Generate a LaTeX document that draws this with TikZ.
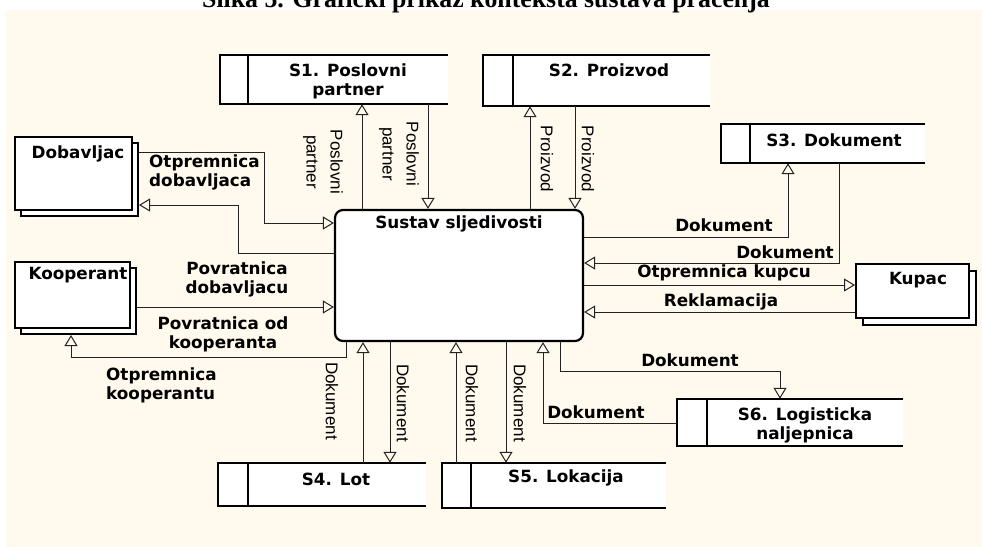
\documentclass[tikz,border=0pt]{standalone}
\usepackage{fontspec}
\setmainfont{DejaVu Sans}
\newfontfamily\rotfont{Liberation Sans}
\newfontfamily\titlefont{Liberation Serif}
\usetikzlibrary{arrows.meta}
\definecolor{cream}{RGB}{255,249,238}
\definecolor{ink}{RGB}{35,35,35}

\tikzset{
  flow/.style={draw=ink, line width=1pt, -{Triangle[open,length=11pt,width=13pt]}},
  lbl/.style={inner sep=0pt, font=\fontsize{16.8}{19}\selectfont\bfseries, align=center},
  vlbl/.style={inner sep=0pt, rotate=-90, font=\rotfont\fontsize{17}{24}\selectfont, align=center},
  boxline/.style={line width=2.2pt, draw=black},
  entity/.style={draw=black, line width=2pt, fill=white, inner sep=0pt},
  storebody/.style={fill=white, inner sep=0pt},
}

% data store: name, x1, y1, x2, y2, divider x
\newcommand\dfdstore[6]{%
  \node[storebody, minimum width={(#4-#2)*1pt}, minimum height={(#5-#3)*1pt}] (#1) at ({(#2+#4)/2},{(#3+#5)/2}) {};
  \draw[boxline] (#1.north east) -- (#1.north west) -- (#1.south west) -- (#1.south east);
  \draw[boxline] (#1.north -| #6,0) -- (#1.south -| #6,0);
}

\begin{document}
\begin{tikzpicture}[x=1pt,y=-1pt]
\useasboundingbox (0,0) rectangle (982,547);
\clip (0,0) rectangle (982,547);
\fill[white] (0,0) rectangle (982,547);
\fill[cream] (6,10) rectangle (982,547);

% caption
\node[font=\titlefont\bfseries\fontsize{25.8}{28}\selectfont, anchor=base, inner sep=0pt] (title) at (486,7.5)
  {Slika 5. Grafički prikaz konteksta sustava praćenja};

% external entities (with shadow copies)
\node[entity, minimum width=117pt, minimum height=73pt] (dobS) at (79.5,179.5) {};
\node[entity, minimum width=117pt, minimum height=73pt] (dob) at (73.5,173.5) {};
\node[lbl] (dobt) at (78,154) {Dobavljac};

\node[entity, minimum width=115pt, minimum height=66pt] (koopS) at (78.5,301) {};
\node[entity, minimum width=115pt, minimum height=66pt] (koop) at (72.5,295) {};
\node[lbl] (koopt) at (78,275) {Kooperant};

\node[entity, minimum width=113pt, minimum height=54pt] (kupS) at (919.5,298) {};
\node[entity, minimum width=113pt, minimum height=54pt] (kup) at (912.5,291) {};
\node[lbl] (kupt) at (918,280) {Kupac};

% central process
\node[draw=black, line width=2.2pt, rounded corners=8pt, fill=white, inner sep=0pt,
      minimum width=248pt, minimum height=131pt] (main) at (459,275.5) {};
\node[lbl] (maint) at (459,224) {Sustav sljedivosti};

% data stores
\dfdstore{s1}{220}{55}{448}{104}{248}
\node[lbl] (s1t) at (348,81.5) {S1. Poslovni\\partner};
\dfdstore{s2}{483}{55}{710}{106}{513}
\node[lbl] (s2t) at (609,70) {S2. Proizvod};
\dfdstore{s3}{721}{124}{925}{163}{750}
\node[lbl] (s3t) at (834,140) {S3. Dokument};
\dfdstore{s4}{218}{463}{426}{506}{248}
\node[lbl] (s4t) at (336,479) {S4. Lot};
\dfdstore{s5}{442}{463}{666}{508}{471}
\node[lbl] (s5t) at (566,478) {S5. Lokacija};
\dfdstore{s6}{677}{399}{903}{446}{707}
\node[lbl] (s6t) at (805,425) {S6. Logisticka\\naljepnica};

% flows: suppliers
\draw[flow] (dobS.east |- 0,152) -| (264,223) -- (main.west |- 0,223);
\node[lbl, anchor=west, align=left] (l1) at (149,172.5) {Otpremnica\\dobavljaca};
\draw[flow] (main.west |- 0,253) -| (238,205) -- (dobS.east |- 0,205);

% flows: cooperant
\draw[flow] (koopS.east |- 0,307) -- (main.west |- 0,307);
\node[lbl] (l2) at (237,279) {Povratnica\\dobavljacu};
\node[lbl] (l3) at (223,334.5) {Povratnica od\\kooperanta};
\draw[flow] (main.south -| 346,0) -- (346,357) -| (koopS.south -| 71,0);
\node[lbl, anchor=west, align=left] (l4) at (106,385) {Otpremnica\\kooperantu};

% flows: S1 and S2
\draw[flow] (main.north -| 362,0) -- (s1.south -| 362,0);
\node[vlbl] (l5) at (323,162) {Poslovni\\partner};
\draw[flow] (s1.south -| 428,0) -- (main.north -| 428,0);
\node[vlbl] (l6) at (399,154) {Poslovni\\partner};
\draw[flow] (main.north -| 530,0) -- (s2.south -| 530,0);
\node[vlbl] (l7) at (547,159) {Proizvod};
\draw[flow] (s2.south -| 575,0) -- (main.north -| 575,0);
\node[vlbl] (l8) at (588,159) {Proizvod};

% flows: S3 and customer
\draw[flow] (main.east |- 0,237) -| (s3.south -| 788,0);
\node[lbl] (l9) at (724,225) {Dokument};
\draw[flow] (s3.south -| 839,0) |- (main.east |- 0,263);
\node[lbl] (l10) at (785,252) {Dokument};
\draw[flow] (main.east |- 0,285) -- (kup.west |- 0,285);
\node[lbl] (l11) at (724,273) {Otpremnica kupcu};
\draw[flow] (kup.west |- 0,312) -- (main.east |- 0,312);
\node[lbl] (l12) at (721,302) {Reklamacija};

% flows: S6
\draw[flow] (main.south -| 560,0) -- (560,371) -| (s6.north -| 780,0);
\node[lbl] (l13) at (690,360) {Dokument};
\draw[flow] (s6.west |- 0,423) -| (main.south -| 543,0);
\node[lbl] (l14) at (596,412) {Dokument};

% flows: S4 and S5
\draw[flow] (s4.north -| 363,0) -- (main.south -| 363,0);
\node[vlbl] (l15) at (332,401) {Dokument};
\draw[flow] (main.south -| 390,0) -- (s4.north -| 390,0);
\node[vlbl] (l16) at (403,403) {Dokument};
\draw[flow] (s5.north -| 456,0) -- (main.south -| 456,0);
\node[vlbl] (l17) at (472,403) {Dokument};
\draw[flow] (main.south -| 506,0) -- (s5.north -| 506,0);
\node[vlbl] (l18) at (520,403) {Dokument};
\end{tikzpicture}
\end{document}
